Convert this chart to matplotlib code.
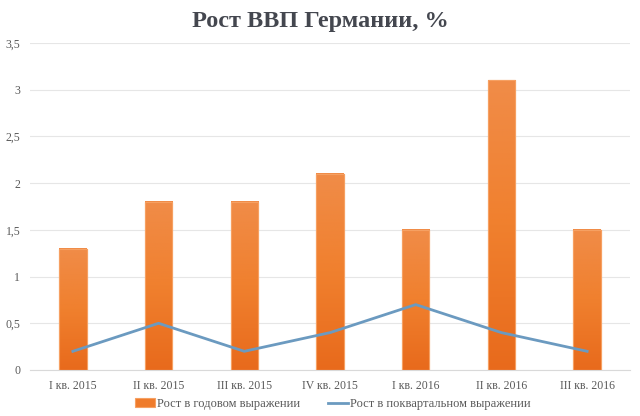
import matplotlib
matplotlib.use("Agg")
import matplotlib.pyplot as plt
import numpy as np
from matplotlib.colors import LinearSegmentedColormap

categories = ["I кв. 2015", "II кв. 2015", "III кв. 2015", "IV кв. 2015",
              "I кв. 2016", "II кв. 2016", "III кв. 2016"]
annual = [1.3, 1.8, 1.8, 2.1, 1.5, 3.1, 1.5]
quarterly = [0.2, 0.5, 0.2, 0.4, 0.7, 0.4, 0.2]
yticks = [0, 0.5, 1, 1.5, 2, 2.5, 3, 3.5]
ytick_labels = ["0", "0,5", "1", "1,5", "2", "2,5", "3", "3,5"]

plt.rcParams['font.family'] = ['Liberation Serif', 'DejaVu Serif']

fig = plt.figure(figsize=(6.4, 4.16), dpi=100)
ax = fig.add_axes([30/640, (416-370)/416, 600/640, (370-43)/416])

x = np.arange(len(categories))
bw = 0.32
bars = ax.bar(x, annual, width=bw, color="#EF7B2B", edgecolor="#F6A062",
              linewidth=0.8, zorder=2, label="Рост в годовом выражении")

cmap = LinearSegmentedColormap.from_list("org", ["#E86A1C", "#F0802E", "#F08C48"])
grad = np.linspace(0, 1, 256).reshape(-1, 1)
for b in bars:
    x0, y0 = b.get_x(), b.get_y()
    w, h = b.get_width(), b.get_height()
    ax.imshow(grad, extent=[x0, x0 + w, y0, y0 + h], aspect="auto",
              cmap=cmap, origin="lower", zorder=2.5)
    ax.add_patch(plt.Rectangle((x0, y0), w, h, fill=False,
                               edgecolor="#F6A062", linewidth=0.8, zorder=2.6))

ax.plot(x, quarterly, color="#6B9AC0", linewidth=2, zorder=3,
        label="Рост в поквартальном выражении")

ax.set_xlim(-0.5, len(categories) - 0.5)
ax.set_ylim(0, 3.5)
ax.set_yticks(yticks)
ax.set_yticklabels(ytick_labels)
ax.set_xticks(x)
ax.set_xticklabels(categories)
ax.tick_params(axis="both", length=0, labelsize=8.5, colors="#595959")
ax.tick_params(axis="y", pad=7)
ax.tick_params(axis="x", pad=7)
ax.grid(axis="y", color="#E6E6E6", linewidth=0.8, zorder=0)
ax.set_axisbelow(True)
for s in ["top", "right", "left"]:
    ax.spines[s].set_visible(False)
ax.spines["bottom"].set_color("#D9D9D9")

fig.suptitle("Рост ВВП Германии, %", x=0.5, y=1 - 22/416, fontsize=17.5,
             fontweight="bold", color="#44474F", va="center")

leg = fig.legend(handles=[bars, ax.lines[0]], loc="center",
                 bbox_to_anchor=(0.52, 1 - 404/416), ncol=2, frameon=False,
                 fontsize=9, handlelength=1.6, handletextpad=0.2,
                 columnspacing=2.2)
for t in leg.get_texts():
    t.set_color("#595959")

fig.savefig("out.png", dpi=100, facecolor="white")
